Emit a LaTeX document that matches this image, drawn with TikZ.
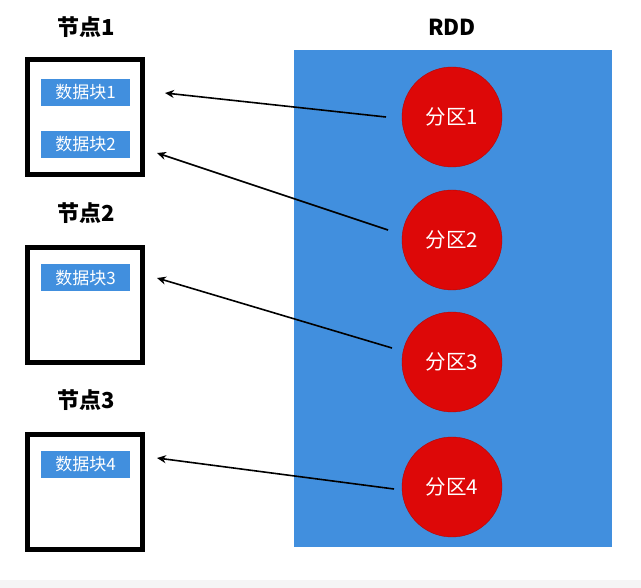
\documentclass[tikz,border=0pt]{standalone}
\usepackage{fontspec}
\setmainfont{Liberation Sans}
\newfontfamily\cjk{Noto Sans CJK SC}
\usetikzlibrary{arrows.meta}
\definecolor{rddblue}{RGB}{65,143,222}
\definecolor{partred}{RGB}{221,8,8}
\definecolor{bandgray}{RGB}{245,245,245}
\begin{document}
\begin{tikzpicture}[x=1pt,y=-1pt,
  title/.style={font=\cjk\bfseries\fontsize{22}{24}\selectfont, inner sep=0pt},
  hostbox/.style={draw=black, line width=5pt, minimum width=115pt, minimum height=115pt, inner sep=0pt},
  block/.style={fill=rddblue, text=white, minimum width=89pt, minimum height=27pt, inner sep=0pt, font=\cjk\fontsize{17}{19}\selectfont},
  part/.style={circle, fill=partred, draw=partred!80!black, line width=0.4pt, minimum size=100pt, inner sep=0pt, text=white, font=\cjk\fontsize{20.5}{22}\selectfont},
  link/.style={draw=black, line width=1.6pt, -{Stealth[length=9pt,width=8pt]}}
]
\useasboundingbox (0,0) rectangle (641,588);
\fill[bandgray] (0,580) rectangle (641,588);
% RDD area
\node[fill=rddblue, minimum width=318pt, minimum height=497pt, inner sep=0pt] (rdd) at (453,298.5) {};
\node[title] (rddt) at (452,27) {RDD};
% host nodes
\node[title] (t1) at (86,27) {节点1};
\node[title] (t2) at (86,213) {节点2};
\node[title] (t3) at (86,400) {节点3};
\node[hostbox] (h1) at (85,117) {};
\node[hostbox] (h2) at (85,305) {};
\node[hostbox] (h3) at (85,492) {};
% data blocks
\node[block] (b1) at (85.5,92.5) {数据块1};
\node[block] (b2) at (85.5,144.5) {数据块2};
\node[block] (b3) at (85.5,278) {数据块3};
\node[block] (b4) at (85.5,464.5) {数据块4};
% partitions
\node[part] (p1) at (452,117) {分区1};
\node[part] (p2) at (452,240) {分区2};
\node[part] (p3) at (452,362) {分区3};
\node[part] (p4) at (452,487) {分区4};
% arrow end points
\coordinate (e1) at (165,93);
\coordinate (e2) at (157,153);
\coordinate (e3) at (157,278);
\coordinate (e4) at (157,458);
\coordinate (s1) at (386,117);
\coordinate (s2) at (388,230);
\coordinate (s3) at (392,348);
\coordinate (s4) at (394,489);
\draw[link] (s1) -- (e1);
\draw[link] (s2) -- (e2);
\draw[link] (s3) -- (e3);
\draw[link] (s4) -- (e4);
\end{tikzpicture}
\end{document}
